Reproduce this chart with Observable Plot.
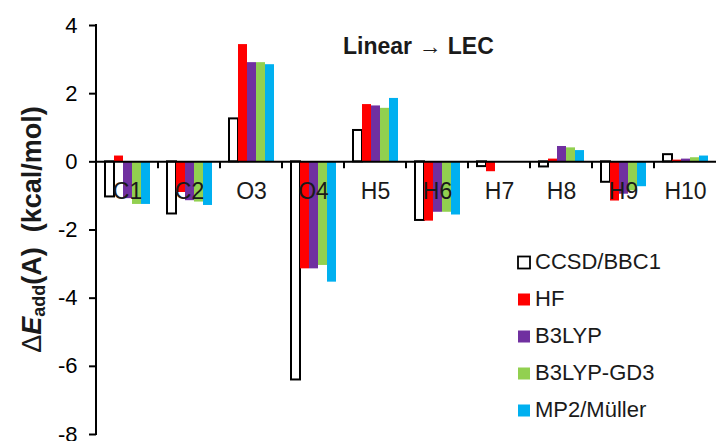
<!DOCTYPE html>
<html><head><meta charset="utf-8">
<script src="https://cdn.jsdelivr.net/npm/d3@7"></script>
<script src="https://cdn.jsdelivr.net/npm/@observablehq/plot@0.6"></script>
<style>
body{margin:0;background:#fff;}
#chart{width:718px;height:441px;}
#chart svg [aria-label^="y-axis"] path, #chart svg [aria-label^="y-axis"] line {stroke-width:2px;}
</style></head><body><div id="chart"></div>
<script>
const categories = ["C1","C2","O3","O4","H5","H6","H7","H8","H9","H10"];
const series = ["CCSD/BBC1","HF","B3LYP","B3LYP-GD3","MP2/Müller"];
const ccsd  = [-1.03,-1.53,1.26,-6.40,0.92,-1.72,-0.14,-0.15,-0.60,0.21];
const hf    = [0.17,-0.90,3.44,-3.14,1.68,-1.74,-0.29,0.08,-1.15,0.05];
const b3lyp = [-1.08,-1.14,2.91,-3.14,1.64,-1.48,0,0.45,-0.95,0.08];
const gd3   = [-1.25,-1.18,2.91,-3.04,1.57,-1.48,0,0.41,-0.85,0.12];
const mp2   = [-1.25,-1.28,2.85,-3.53,1.86,-1.56,0,0.33,-0.73,0.17];
const colors = ["#FFFFFF","#FF0000","#7030A0","#92D050","#00B0F0"];
const yTicks = [-8,-6,-4,-2,0,2,4];
const annotation = ["Linear ", "→", " LEC"];

const seriesValues = [ccsd, hf, b3lyp, gd3, mp2];
const rows = categories.flatMap((c, i) => series.map((s, j) => ({cat: c, series: s, value: seriesValues[j][i]})));

const font = "'Liberation Sans', Arial, sans-serif";
const plot = Plot.plot({
  width: 718, height: 441,
  marginLeft: 94, marginRight: 0, marginTop: 25, marginBottom: 7,
  style: {fontFamily: font, fontSize: "22px", color: "#000", background: "white", overflow: "visible"},
  fx: {domain: categories, padding: 0, axis: null},
  x: {domain: series, paddingInner: 0, paddingOuter: 0.76, axis: null},
  y: {domain: [-8, 4], ticks: yTicks, tickFormat: d => String(d), tickSize: 7, tickPadding: 12, label: null},
  color: {domain: series, range: colors},
  marks: [
    Plot.barY(rows.filter(d => d.series === series[0]), {fx: "cat", x: "series", y: "value", fill: "white", stroke: "black", strokeWidth: 2}),
    Plot.barY(rows.filter(d => d.series !== series[0]), {fx: "cat", x: "series", y: "value", fill: "series"}),
    Plot.ruleY([0], {stroke: "black", strokeWidth: 2}),
    Plot.text(categories, {fx: d => d, y: () => 0, text: d => d, dy: 30, fontSize: 23, fill: "#1a1a1a"})
  ]
});
document.getElementById("chart").appendChild(plot);

const svg = d3.select(plot);
const fxs = plot.scale("fx");
const ys = plot.scale("y");
const y0 = ys.apply(0);
const xLeft = fxs.apply(categories[0]);
// y-axis line and category boundary ticks below the zero line
const gt = svg.append("g").attr("stroke", "black").attr("stroke-width", 2);
gt.append("line").attr("x1", xLeft).attr("x2", xLeft).attr("y1", ys.apply(4) - 1).attr("y2", ys.apply(-8) + 1);
categories.slice(1).forEach(c => {
  const x = fxs.apply(c);
  gt.append("line").attr("x1", x).attr("x2", x).attr("y1", y0).attr("y2", y0 + 7);
});

// y-axis title
const yt = svg.append("text")
  .attr("transform", `translate(34,${(ys.range[0] + ys.range[1]) / 2}) rotate(-90)`)
  .attr("text-anchor", "middle").attr("dominant-baseline", "middle")
  .attr("font-family", font).attr("font-size", 27).attr("font-weight", "bold").attr("fill", "#1a1a1a");
yt.append("tspan").attr("font-weight", "normal").text("Δ");
yt.append("tspan").attr("font-style", "italic").text("E");
yt.append("tspan").attr("font-size", 18).attr("dy", 6).text("add");
yt.append("tspan").attr("dy", -6).text("(A)  (kcal/mol)");

// annotation
const an = svg.append("text").attr("x", 343).attr("y", 54).attr("text-anchor", "start")
  .attr("font-family", font).attr("font-size", 23).attr("font-weight", "bold").attr("fill", "#1a1a1a");
an.append("tspan").text(annotation[0]);
an.append("tspan").attr("font-weight", "normal").text(annotation[1]);
an.append("tspan").text(annotation[2]);

// legend
const lg = svg.append("g").attr("font-family", font).attr("font-size", 22).attr("fill", "#1a1a1a").attr("text-anchor", "start");
series.forEach((s, j) => {
  const cy = 263 + j * 37;
  lg.append("rect").attr("x", 518).attr("y", cy - 6.5).attr("width", 12).attr("height", 12)
    .attr("fill", colors[j]).attr("stroke", j === 0 ? "black" : "none").attr("stroke-width", j === 0 ? 1.8 : 0);
  lg.append("text").attr("x", 535).attr("y", cy).attr("dominant-baseline", "middle").text(s);
});
</script>
</body></html>
